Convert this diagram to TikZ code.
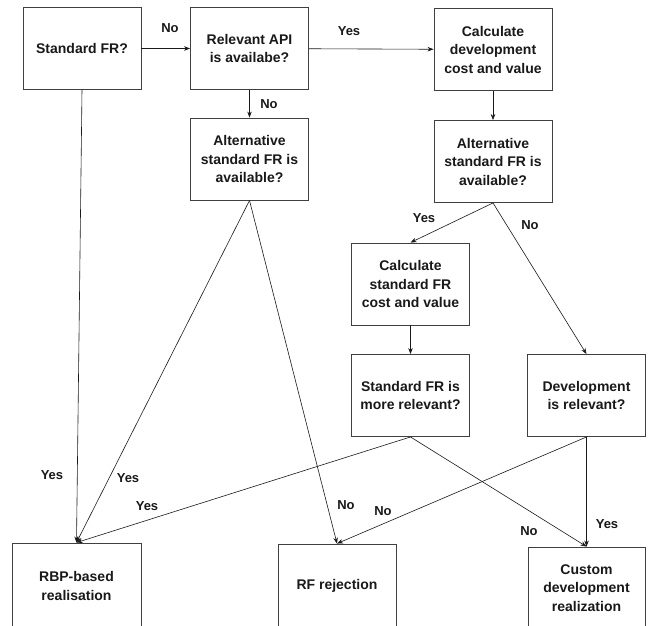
\documentclass[tikz,border=0pt]{standalone}
\usepackage{fontspec}
\setmainfont{Liberation Sans}
\usetikzlibrary{arrows.meta}
\begin{document}
\begin{tikzpicture}[x=1pt,y=-1pt,
 box/.style={draw=black!75, line width=0.9pt, minimum width=118pt, minimum height=82pt, align=center,
   font=\fontsize{14}{18.5}\selectfont\bfseries, inner sep=0pt, text=black!90},
 conn/.style={draw=black!90, line width=0.6pt, -{Stealth[length=6pt,width=4.5pt]}},
 lbl/.style={font=\fontsize{13}{15}\selectfont\bfseries, text=black!90, inner sep=0pt}]
\clip (0,0) rectangle (650,625);
\fill[white] (0,0) rectangle (650,625);
% boxes
\node[box] (sfr) at (82,48.5) {Standard FR?};
\node[box] (api) at (249.5,48.5) {Relevant API\\is availabe?};
\node[box] (cdev) at (493,49.5) {Calculate\\development\\cost and value};
\node[box] (altl) at (249.5,159) {Alternative\\standard FR is\\available?};
\node[box] (altr) at (493,161.5) {Alternative\\standard FR is\\available?};
\node[box] (cstd) at (410.5,284) {Calculate\\standard FR\\cost and value};
\node[box] (smr) at (410.5,395.5) {Standard FR is\\more relevant?};
\node[box] (dev) at (586.5,395.5) {Development\\is relevant?};
\node[box, minimum width=129pt, minimum height=86pt] (rbp) at (76.5,586) {RBP-based\\realisation};
\node[box, minimum height=84pt] (rfr) at (337,586) {RF rejection};
\node[box, minimum width=117pt] (cust) at (586.5,588) {Custom\\development\\realization};
% connectors
\draw[conn] (sfr) -- (api);
\draw[conn] (api) -- (cdev);
\draw[conn] (api) -- (altl);
\draw[conn] (cdev) -- (altr);
\draw[conn] (altr.south) -- (cstd.north);
\draw[conn] (altr.south) -- (dev.north);
\draw[conn] (cstd) -- (smr);
\draw[conn] (sfr.south) -- (rbp.north);
\draw[conn] (altl.south) -- (rbp.north);
\draw[conn] (altl.south) -- (rfr.north);
\draw[conn] (smr.south) -- (rbp.north);
\draw[conn] (smr.south) -- (cust.north);
\draw[conn] (dev.south) -- (rfr.north);
\draw[conn] (dev.south) -- (cust.north);
% labels
\node[lbl] (l1) at (170,28) {No};
\node[lbl] (l2) at (349,31) {Yes};
\node[lbl] (l3) at (269,104) {No};
\node[lbl] (l4) at (424,218) {Yes};
\node[lbl] (l5) at (530,225) {No};
\node[lbl] (l6) at (52,475) {Yes};
\node[lbl] (l7) at (128,478) {Yes};
\node[lbl] (l8) at (147,506) {Yes};
\node[lbl] (l9) at (346,505) {No};
\node[lbl] (l10) at (383,511) {No};
\node[lbl] (l11) at (529,531) {No};
\node[lbl] (l12) at (607,524) {Yes};
\end{tikzpicture}
\end{document}
